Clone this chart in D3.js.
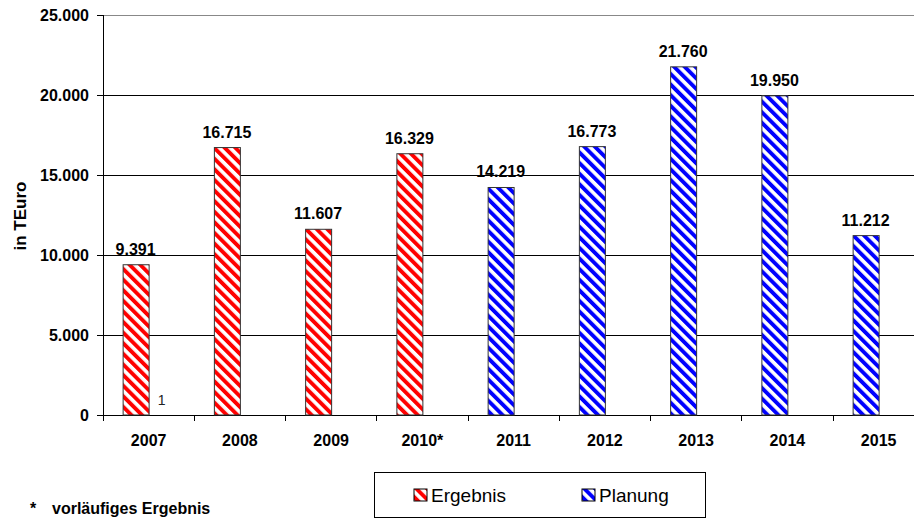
<!DOCTYPE html>
<meta charset="utf-8">
<title>Ergebnis / Planung</title>
<style>

    body {
        margin: 0;
        background: #fff;
    }

    text {
        font-family: Arial, "Liberation Sans", sans-serif;
    }

</style>
<body>
<script src="https://cdn.jsdelivr.net/npm/d3@7"></script>
<script>

    var years = ["2007", "2008", "2009", "2010*", "2011", "2012", "2013", "2014", "2015"],
        values = [9391, 16715, 11607, 16329, 14219, 16773, 21760, 19950, 11212],
        kinds = ["Ergebnis", "Ergebnis", "Ergebnis", "Ergebnis", "Planung", "Planung", "Planung", "Planung", "Planung"],
        extra = [1, null, null, null, null, null, null, null, null],
        yTicks = [0, 5000, 10000, 15000, 20000, 25000],
        legendItems = ["Ergebnis", "Planung"],
        colors = {Ergebnis: "#ff0000", Planung: "#0000ff"};

    var w = 914,
        h = 520,
        plotLeft = 103,
        plotTop = 15,
        plotBottom = 415,
        step = 91.25;

    var de = d3.formatLocale({decimal: ",", thousands: ".", grouping: [3], currency: ["", " €"]});
    var fmt = de.format(",d");

    var svg = d3.select("body").append("svg")
        .attr("width", w)
        .attr("height", h);

    // stripe patterns
    var defs = svg.append("defs");
    legendItems.forEach(function(k) {
        var p = defs.append("pattern")
            .attr("id", "hatch-" + k)
            .attr("patternUnits", "userSpaceOnUse")
            .attr("width", 7.5)
            .attr("height", 7.5)
            .attr("patternTransform", "rotate(-45)");
        p.append("rect").attr("width", 7.5).attr("height", 7.5).attr("fill", "#fff");
        p.append("rect").attr("width", 3.9).attr("height", 7.5).attr("fill", colors[k]);
    });

    var x = d3.scaleBand()
        .domain(years)
        .range([plotLeft, plotLeft + years.length * step])
        .padding(0);

    var slot = d3.scaleBand()
        .domain(["main", "extra"])
        .range([x.bandwidth() / 2 - 26, x.bandwidth() / 2 + 26]);

    var y = d3.scaleLinear()
        .domain([0, 25000])
        .range([plotBottom, plotTop]);

    // gridlines
    svg.append("g").selectAll("line")
        .data(yTicks.slice(1))
        .enter().append("line")
        .attr("x1", plotLeft)
        .attr("x2", x.range()[1])
        .attr("y1", function(d) { return y(d); })
        .attr("y2", function(d) { return y(d); })
        .attr("stroke", function(d) { return d === 25000 ? "#888" : "#000"; })
        .attr("stroke-width", 1)
        .attr("shape-rendering", "crispEdges");

    // y axis
    var yAxis = svg.append("g")
        .attr("transform", "translate(" + plotLeft + ",0)")
        .call(d3.axisLeft(y).tickValues(yTicks).tickSize(6).tickPadding(8).tickFormat(fmt));
    yAxis.select(".domain").attr("stroke", "#000").attr("shape-rendering", "crispEdges");
    yAxis.selectAll(".tick line").attr("stroke", "#000").attr("shape-rendering", "crispEdges");
    yAxis.selectAll("text")
        .style("font-family", "Arial, 'Liberation Sans', sans-serif")
        .style("font-size", "16px")
        .style("font-weight", "bold")
        .attr("fill", "#000")
        .attr("dy", "0.36em");

    // x axis
    var xAxis = svg.append("g")
        .attr("transform", "translate(0," + plotBottom + ")")
        .call(d3.axisBottom(x).tickSize(0).tickPadding(20));
    xAxis.select(".domain").remove();
    xAxis.selectAll("text")
        .style("font-family", "Arial, 'Liberation Sans', sans-serif")
        .style("font-size", "16px")
        .style("font-weight", "bold")
        .attr("fill", "#000");

    svg.append("line")
        .attr("x1", plotLeft)
        .attr("x2", x.range()[1])
        .attr("y1", plotBottom)
        .attr("y2", plotBottom)
        .attr("stroke", "#000")
        .attr("shape-rendering", "crispEdges");

    // ticks between categories
    svg.append("g").selectAll("line")
        .data(years.concat(["end"]))
        .enter().append("line")
        .attr("x1", function(d, i) { return plotLeft + i * x.step(); })
        .attr("x2", function(d, i) { return plotLeft + i * x.step(); })
        .attr("y1", plotBottom)
        .attr("y2", plotBottom + 6)
        .attr("stroke", "#000")
        .attr("shape-rendering", "crispEdges");

    // bars
    svg.append("g").selectAll("rect")
        .data(values)
        .enter().append("rect")
        .attr("x", function(d, i) { return x(years[i]) + slot("main") + 0.5; })
        .attr("y", function(d) { return y(d); })
        .attr("width", slot.bandwidth())
        .attr("height", function(d) { return y(0) - y(d); })
        .attr("fill", function(d, i) { return "url(#hatch-" + kinds[i] + ")"; })
        .attr("stroke", "#333")
        .attr("stroke-width", 1);

    // value labels
    svg.append("g").selectAll("text")
        .data(values)
        .enter().append("text")
        .attr("x", function(d, i) { return x(years[i]) + slot("main") + slot.bandwidth() / 2; })
        .attr("y", function(d) { return y(d) - 10; })
        .attr("text-anchor", "middle")
        .style("font-size", "16px")
        .style("font-weight", "bold")
        .text(fmt);

    // tiny second series
    svg.append("g").selectAll("text")
        .data(extra)
        .enter().filter(function(d) { return d != null; }).append("text")
        .attr("x", function(d, i) { return x(years[i]) + slot("extra") + slot.bandwidth() / 2; })
        .attr("y", function(d) { return y(d) - 10; })
        .attr("text-anchor", "middle")
        .attr("fill", "#222")
        .style("font-size", "14px")
        .text(fmt);

    // y title
    svg.append("text")
        .attr("transform", "translate(26,216)rotate(-90)")
        .attr("text-anchor", "middle")
        .style("font-size", "17px")
        .style("font-weight", "bold")
        .text("in TEuro");

    // legend
    var legend = svg.append("g");
    legend.append("rect")
        .attr("x", 374.5)
        .attr("y", 472.5)
        .attr("width", 331)
        .attr("height", 45)
        .attr("fill", "#fff")
        .attr("stroke", "#000");

    var lx = d3.scalePoint().domain(legendItems).range([414, 582]);

    var item = legend.selectAll("g.item")
        .data(legendItems)
        .enter().append("g")
        .attr("class", "item")
        .attr("transform", function(d) { return "translate(" + lx(d) + ",489)"; });
    item.append("rect")
        .attr("width", 13)
        .attr("height", 12)
        .attr("fill", function(d) { return "url(#hatch-" + d + ")"; })
        .attr("stroke", "#000");
    item.append("text")
        .attr("x", 17)
        .attr("y", 12.5)
        .style("font-size", "19px")
        .text(function(d) { return d; });

    // footnote
    svg.append("text")
        .attr("x", 30)
        .attr("y", 514)
        .style("font-size", "16px")
        .style("font-weight", "bold")
        .text("*");
    svg.append("text")
        .attr("x", 52)
        .attr("y", 514)
        .style("font-size", "16px")
        .style("font-weight", "bold")
        .text("vorläufiges Ergebnis");

</script>
